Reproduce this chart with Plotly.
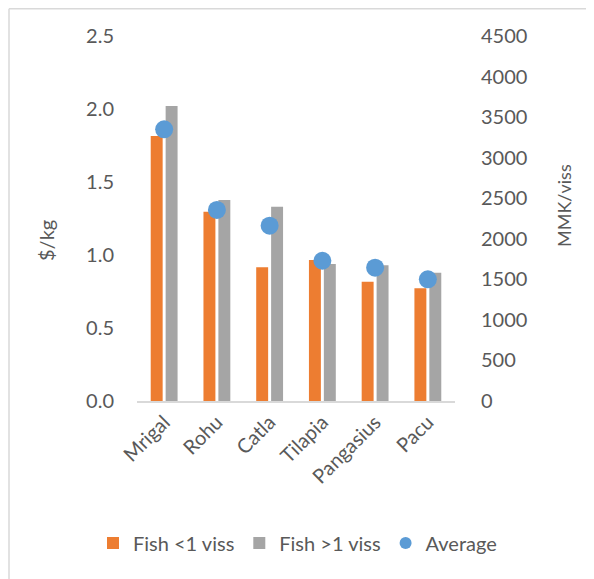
import plotly.graph_objects as go

categories = ["Mrigal", "Rohu", "Catla", "Tilapia", "Pangasius", "Pacu"]
fish_small = [1.815, 1.297, 0.916, 0.966, 0.817, 0.772]   # $/kg, Fish <1 viss
fish_large = [2.02, 1.377, 1.331, 0.938, 0.929, 0.879]    # $/kg, Fish >1 viss
average_mmk = [3350, 2355, 2161, 1729, 1644, 1500]        # MMK/viss

FONT = "Lato"
GREY_TXT = "#595959"
FS = 20

OFF = 8                      # page body margin
WIN_W, WIN_H = 594, 579
W, H = WIN_W - OFF, WIN_H - OFF
# plot area in window pixels: x 137..455, y 36..401
L = 137 - OFF
R = W - (455 - OFF)
T = 36 - OFF
B = H - (401 - OFF)
pw, ph = W - L - R, H - T - B


def px(x):
    return (x - OFF - L) / pw


def py(y):
    return (H - B - (y - OFF)) / ph


fig = go.Figure()
fig.add_trace(go.Bar(x=categories, y=fish_small, name="Fish <1 viss",
                     marker=dict(color="#ED7D31", line=dict(width=0))))
fig.add_trace(go.Bar(x=categories, y=fish_large, name="Fish >1 viss",
                     marker=dict(color="#A5A5A5", line=dict(width=0))))
fig.add_trace(go.Scatter(x=categories, y=average_mmk, name="Average", mode="markers",
                         yaxis="y2", marker=dict(color="#5B9BD5", size=18)))

fig.update_layout(
    width=W, height=H,
    margin=dict(l=L, r=R, t=T, b=B, autoexpand=False),
    paper_bgcolor="white", plot_bgcolor="white",
    barmode="group", bargap=0.434, bargroupgap=0.2,
    font=dict(family=FONT, size=FS, color=GREY_TXT),
    showlegend=True,
    legend=dict(orientation="h", x=px(93), xanchor="left", y=py(543), yanchor="middle",
                font=dict(family=FONT, size=FS, color=GREY_TXT),
                itemsizing="constant", traceorder="normal"),
    xaxis=dict(type="category", showline=True, linecolor="#D9D9D9", linewidth=1.5,
               showgrid=False, ticks="", tickangle=-45,
               tickfont=dict(family=FONT, size=FS, color=GREY_TXT)),
    yaxis=dict(range=[0, 2.5], dtick=0.5, tickformat=".1f", showgrid=False,
               zeroline=False, showline=False, ticks="", ticklabelstandoff=22,
               tickfont=dict(family=FONT, size=FS, color=GREY_TXT)),
    yaxis2=dict(range=[0, 4500], dtick=500, overlaying="y", side="right",
                showgrid=False, zeroline=False, showline=False, ticks="",
                ticklabelstandoff=25,
                tickfont=dict(family=FONT, size=FS, color=GREY_TXT)),
    annotations=[
        dict(text="$/kg", xref="paper", yref="paper", x=px(46), y=py(241),
             showarrow=False, textangle=-90, xanchor="center", yanchor="middle",
             font=dict(family=FONT, size=FS, color=GREY_TXT)),
        dict(text="MMK/viss", xref="paper", yref="paper", x=px(564), y=py(206),
             showarrow=False, textangle=-90, xanchor="center", yanchor="middle",
             font=dict(family=FONT, size=18, color=GREY_TXT)),
    ],
    shapes=[
        dict(type="line", xref="paper", yref="paper", x0=px(9), x1=px(9),
             y0=py(8.7), y1=py(WIN_H + 5), line=dict(color="#D9D9D9", width=1.5)),
        dict(type="line", xref="paper", yref="paper", x0=px(9), x1=px(WIN_W + 5),
             y0=py(8.7), y1=py(8.7), line=dict(color="#D9D9D9", width=1.5)),
    ],
)

fig.write_html("out.html")
